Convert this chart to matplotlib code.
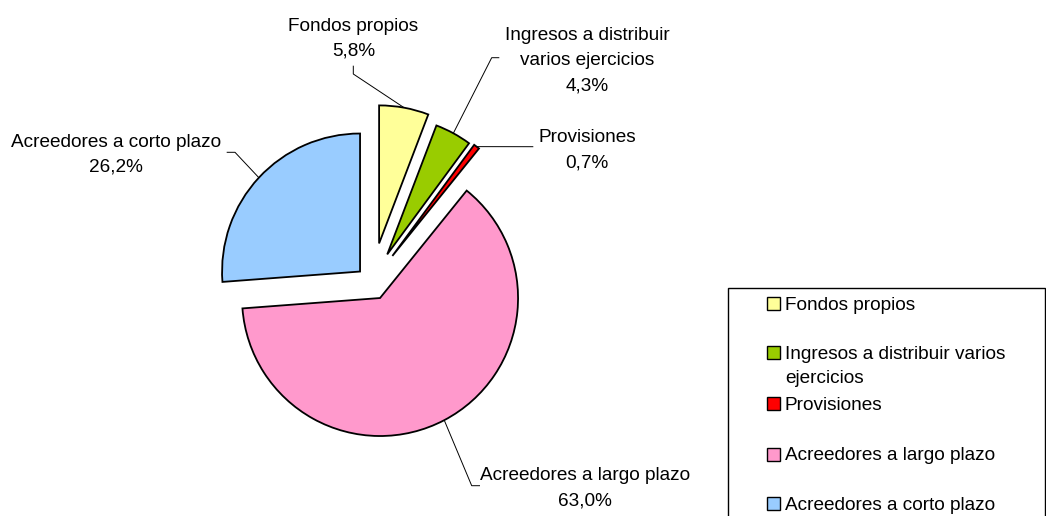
import numpy as np
import matplotlib
matplotlib.use('Agg')
import matplotlib.pyplot as plt
from matplotlib.patches import Rectangle

# ---- data ----
categories = ["Fondos propios", "Ingresos a distribuir varios ejercicios",
              "Provisiones", "Acreedores a largo plazo", "Acreedores a corto plazo"]
values = [5.8, 4.3, 0.7, 63.0, 26.2]
pie_labels = ["Fondos propios", "Ingresos a distribuir\nvarios ejercicios",
              "Provisiones", "Acreedores a largo plazo", "Acreedores a corto plazo"]
legend_labels = ["Fondos propios", "Ingresos a distribuir varios\nejercicios",
                 "Provisiones", "Acreedores a largo plazo", "Acreedores a corto plazo"]
colors = ["#FFFF99", "#99CC00", "#FF0000", "#FF99CC", "#99CCFF"]
explode = [0.288, 0.232, 0.243, 0.127, 0.117]

# ---- layout (pixel space) ----
W, H = 1046, 516
CX, CY, R = 371.9, 282.5, 138.0
FONT = 'Liberation Sans'
FS = 13.7
LINE = 25.0

def X(px):
    return (px - CX) / R

def Y(py):
    return (CY - py) / R

fig = plt.figure(figsize=(W / 100, H / 100), dpi=100)
ax = fig.add_axes([0, 0, 1, 1])
wedges, _ = ax.pie(values, explode=explode, colors=colors, startangle=90,
                   counterclock=False, radius=1, center=(0, 0),
                   wedgeprops=dict(edgecolor='black', linewidth=1.3,
                                   joinstyle='miter'))
ax.set_xlim(X(0), X(W))
ax.set_ylim(Y(H), Y(0))
ax.set_aspect('auto')
ax.axis('off')

# label centers (x) and first-line baselines (y), in pixels
label_x = [353.5, 587.3, 587.0, 585.3, 115.8]
label_y = [31.0, 40.3, 142.0, 480.3, 147.0]
leader_pts = [[(353.3, 74.0), (353.3, 65.7)],
              [(491.7, 57.7), (499.3, 57.7)],
              [(533.3, 146.7)],
              [(471.7, 485.7), (480.0, 485.7)],
              [(235.0, 152.3), (226.7, 152.3)]]

for i, w in enumerate(wedges):
    pct = f"{values[i]:.1f}".replace('.', ',') + '%'
    lines = pie_labels[i].split('\n') + [pct]
    for k, ln in enumerate(lines):
        ax.text(X(label_x[i]), Y(label_y[i] + k * LINE), ln, ha='center',
                va='baseline', fontsize=FS, family=FONT, color='black')
    # leader line from arc mid-point
    tm = np.deg2rad(0.5 * (w.theta1 + w.theta2))
    cx, cy = w.center
    xs = [cx + w.r * np.cos(tm)] + [X(p[0]) for p in leader_pts[i]]
    ys = [cy + w.r * np.sin(tm)] + [Y(p[1]) for p in leader_pts[i]]
    ax.plot(xs, ys, color='black', lw=0.7, solid_capstyle='butt')

# ---- legend (manual) ----
box_l, box_t, box_r = 728.3, 288.3, 1045.0
ax.add_patch(Rectangle((X(box_l), Y(530)), (box_r - box_l) / R, (530 - box_t) / R,
                       fill=False, edgecolor='black', lw=1.0, clip_on=False))
leg_base = [309.5, 359.0, 410.0, 460.5, 510.0]
SQ = 13.0
for i, lab in enumerate(legend_labels):
    b = leg_base[i]
    ax.add_patch(Rectangle((X(767.0), Y(b)), SQ / R, SQ / R,
                           facecolor=colors[i], edgecolor='black', lw=1.0,
                           clip_on=False))
    for k, ln in enumerate(lab.split('\n')):
        ax.text(X(785.0), Y(b + k * 24.0), ln, ha='left', va='baseline',
                fontsize=FS, family=FONT, color='black')

fig.savefig('out.png', dpi=100, facecolor='white')
